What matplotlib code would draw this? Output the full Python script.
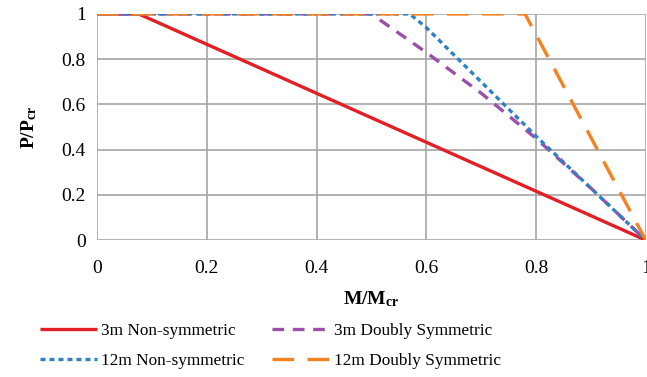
import matplotlib
matplotlib.use("Agg")
from matplotlib import pyplot as plt

plt.rcParams['font.family'] = ['Liberation Serif', 'DejaVu Serif']
plt.rcParams['mathtext.fontset'] = 'custom'
plt.rcParams['mathtext.rm'] = 'Liberation Serif'
plt.rcParams['mathtext.bf'] = 'Liberation Serif:bold'

# interaction curves
m_3m_non = [0, 0.076, 1]
p_3m_non = [1, 1, 0]
m_3m_dbl = [0, 0.5, 0.6, 0.7, 0.8, 0.9, 1]
p_3m_dbl = [1, 1, 0.83, 0.65, 0.45, 0.23, 0]
m_12m_non = [0, 0.57, 0.6, 0.7, 0.8, 0.9, 1]
p_12m_non = [1, 1, 0.94, 0.70, 0.46, 0.23, 0]
m_12m_dbl = [0, 0.78, 1]
p_12m_dbl = [1, 1, 0]

ticks = [0, 0.2, 0.4, 0.6, 0.8, 1]
tick_labels = ["0", "0.2", "0.4", "0.6", "0.8", "1"]

fig = plt.figure(figsize=(6.47, 3.77), dpi=100)
ax = fig.add_axes([0.150, 0.363, 0.848, 0.600])

red, = ax.plot(m_3m_non, p_3m_non, color='#E31E24', lw=2.4, solid_capstyle='butt',
               label="3m Non-symmetric", zorder=3)
purple, = ax.plot(m_3m_dbl, p_3m_dbl, color='#9B4FA8', lw=2.4, dashes=(3.5, 2.6),
                  label="3m Doubly Symmetric", zorder=4)
blue, = ax.plot(m_12m_non, p_12m_non, color='#2E82C4', lw=2.4, dashes=(1.5, 1.2),
                label="12m Non-symmetric", zorder=5)
orange, = ax.plot(m_12m_dbl, p_12m_dbl, color='#F58220', lw=2.4, dashes=(6.5, 4.0),
                  label="12m Doubly Symmetric", zorder=6)

ax.set_xlim(0, 1)
ax.set_ylim(0, 1)
ax.set_xticks(ticks, tick_labels)
ax.set_yticks(ticks, tick_labels)
ax.grid(True, color='#A6A6A6', lw=1.2)
ax.set_axisbelow(True)
for s in ax.spines.values():
    s.set_visible(False)
ax.tick_params(length=0, labelsize=14, pad=8)
ax.tick_params(axis='x', pad=14)

ax.set_xlabel(r"$\mathbf{M/M_{cr}}$", fontsize=14, labelpad=9)
ax.set_ylabel(r"$\mathbf{P/P_{cr}}$", fontsize=14, labelpad=16)

fig.legend(handles=[red, blue, purple, orange], loc='lower center', ncol=2,
           frameon=False, fontsize=12.4, bbox_to_anchor=(0.418, -0.02),
           handlelength=3.3, handletextpad=0.25, columnspacing=1.6,
           labelspacing=0.8)

fig.savefig("out.png", dpi=100)
